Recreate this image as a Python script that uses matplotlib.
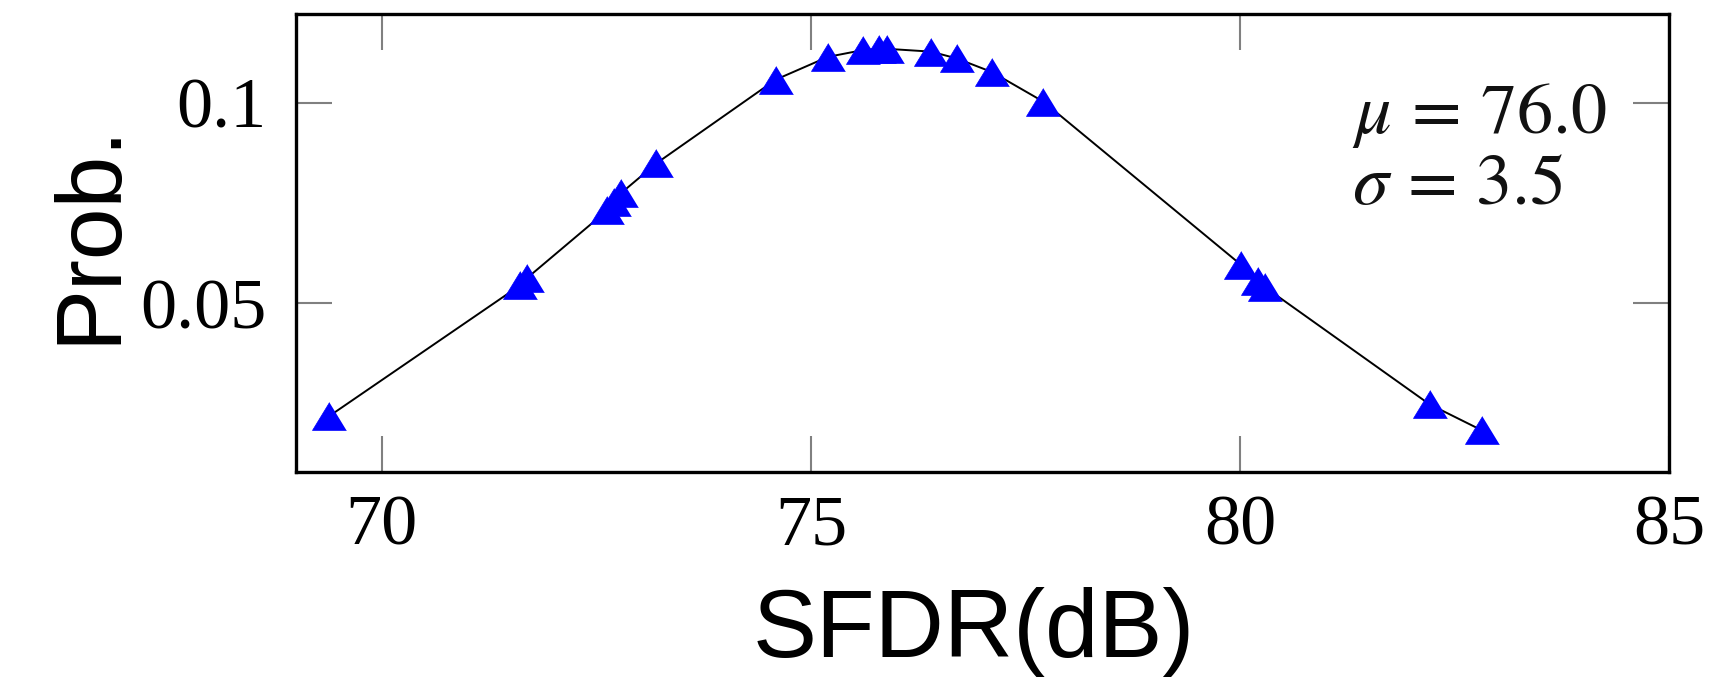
import matplotlib
matplotlib.use('Agg')
import matplotlib.pyplot as plt

plt.rcParams['mathtext.fontset'] = 'stix'

# SFDR samples (dB) and their probability
sfdr = [69.39, 71.61, 71.69, 72.63, 72.71, 72.79, 73.20, 74.59, 75.20, 75.61,
        75.79, 75.89, 76.40, 76.70, 77.11, 77.71, 80.01, 80.21, 80.29, 82.21, 82.82]
prob = [0.0218, 0.0544, 0.0562, 0.0732, 0.0752, 0.0775, 0.0849, 0.1058, 0.1115, 0.1132,
        0.1135, 0.1135, 0.1128, 0.1111, 0.1077, 0.1003, 0.0596, 0.0554, 0.0540, 0.0247, 0.0182]
mu = 76.0
sigma = 3.5

xticks = [70, 75, 80, 85]
yticks = [0.05, 0.1]
yticklabels = ['0.05', '0.1']

fig = plt.figure(figsize=(17.31, 6.8), dpi=100)
fig.patch.set_facecolor('white')
ax = fig.add_axes([296/1731, 208/680, 1373/1731, 458/680])

tri = [(0, 0.82), (-1, -0.82), (1, -0.82)]
ax.plot(sfdr, prob, color='black', linewidth=1.4, zorder=2)
ax.plot(sfdr, prob, linestyle='none', marker=tri, markersize=24.5,
        markerfacecolor='#0000FF', markeredgecolor='#0000FF', markeredgewidth=0.5, zorder=3)

ax.set_xlim(69, 85)
ax.set_ylim(0.0078, 0.1222)
ax.set_xticks(xticks)
ax.set_xticklabels([str(t) for t in xticks])
ax.set_yticks(yticks)
ax.set_yticklabels(yticklabels)

for lbl in ax.get_xticklabels() + ax.get_yticklabels():
    lbl.set_fontfamily('Liberation Serif')
    lbl.set_fontsize(52)

ax.tick_params(axis='both', which='major', direction='in', length=26, width=1.5,
               color='#808080', top=True, right=True)
ax.tick_params(axis='x', pad=16)
ax.tick_params(axis='y', pad=21)

for sp in ax.spines.values():
    sp.set_linewidth(2.4)
    sp.set_color('black')

# stats annotation
ax.text(0.769, 0.740, r'$\mu \,=\, %.1f$' % mu, transform=ax.transAxes,
        ha='left', va='baseline', fontsize=52, color='#111111')
ax.text(0.769, 0.585, r'$\sigma \,=\, %.1f$' % sigma, transform=ax.transAxes,
        ha='left', va='baseline', fontsize=52, color='#111111')

# axis titles
fig.text(974/1731, 23/680, 'SFDR(dB)', ha='center', va='baseline',
         fontsize=69, fontfamily='Liberation Sans')
fig.text(133/1731, (680-232.5)/680, 'Prob.', ha='right', va='center', rotation=90,
         fontsize=67, fontfamily='Liberation Sans')

plt.savefig('out.png', dpi=100, facecolor='white')
